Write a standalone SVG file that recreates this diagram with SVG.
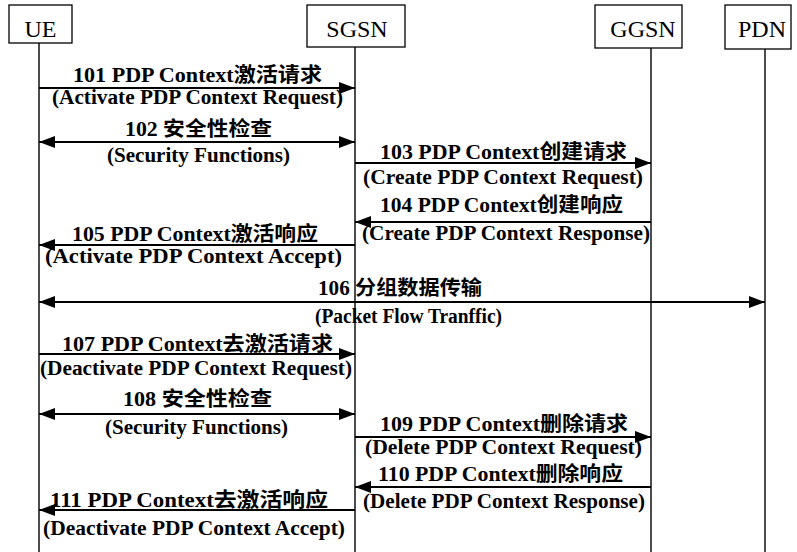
<svg xmlns="http://www.w3.org/2000/svg" width="797" height="552" viewBox="0 0 797 552">
<defs>
<style>
.box{fill:#fff;stroke:#000;stroke-width:1.3}
.life{stroke:#000;stroke-width:1.4;fill:none}
.msg{stroke:#000;stroke-width:1.8;fill:none}
.hd{font-family:"Liberation Serif","Noto Sans CJK SC",serif;font-size:24px;fill:#000;text-anchor:middle}
.lb{font-family:"Liberation Serif","Noto Sans CJK SC",serif;font-size:20px;font-weight:bold;fill:#000}
</style>
<marker id="ah" viewBox="0 0 16 12" refX="16" refY="6" markerWidth="16" markerHeight="12" markerUnits="userSpaceOnUse" orient="auto-start-reverse">
<path d="M0,0 L16,6 L0,12 Z" fill="#000"/>
</marker>
</defs>
<rect width="797" height="552" fill="#fff"/>
<g id="UE">
<rect class="box" x="9" y="5" width="63" height="38"/>
<text class="hd" x="40.5" y="37">UE</text>
<line class="life" x1="39" y1="43" x2="39" y2="552"/>
</g>
<g id="SGSN">
<rect class="box" x="307" y="5" width="98" height="42"/>
<text class="hd" x="357" y="37">SGSN</text>
<line class="life" x1="355" y1="47" x2="355" y2="552"/>
</g>
<g id="GGSN">
<rect class="box" x="595" y="5" width="87" height="43"/>
<text class="hd" x="643" y="37">GGSN</text>
<line class="life" x1="651" y1="48" x2="651" y2="552"/>
</g>
<g id="PDN">
<rect class="box" x="725" y="5" width="66" height="44"/>
<text class="hd" x="762" y="37">PDN</text>
<line class="life" x1="765" y1="49" x2="765" y2="552"/>
</g>
<g id="connectors">
<line class="msg" x1="39" y1="88" x2="355" y2="88" marker-end="url(#ah)"/>
<line class="msg" x1="39" y1="142" x2="355" y2="142" marker-start="url(#ah)" marker-end="url(#ah)"/>
<line class="msg" x1="355" y1="163" x2="651" y2="163" marker-end="url(#ah)"/>
<line class="msg" x1="651" y1="222" x2="355" y2="222" marker-end="url(#ah)"/>
<line class="msg" x1="355" y1="245" x2="39" y2="245" marker-end="url(#ah)"/>
<line class="msg" x1="39" y1="302" x2="765" y2="302" marker-start="url(#ah)" marker-end="url(#ah)"/>
<line class="msg" x1="39" y1="354" x2="355" y2="354" marker-end="url(#ah)"/>
<line class="msg" x1="39" y1="414" x2="355" y2="414" marker-start="url(#ah)" marker-end="url(#ah)"/>
<line class="msg" x1="355" y1="437" x2="651" y2="437" marker-end="url(#ah)"/>
<line class="msg" x1="651" y1="487" x2="355" y2="487" marker-end="url(#ah)"/>
<line class="msg" x1="355" y1="510" x2="39" y2="510" marker-end="url(#ah)"/>
</g>
<g id="labels">
<text class="lb" x="73" y="82" textLength="249" lengthAdjust="spacingAndGlyphs">101 PDP Context激活请求</text>
<text class="lb" x="52" y="104" textLength="291" lengthAdjust="spacingAndGlyphs">(Activate PDP Context Request)</text>
<text class="lb" x="125" y="136" textLength="147" lengthAdjust="spacingAndGlyphs">102 安全性检查</text>
<text class="lb" x="107" y="162" textLength="183" lengthAdjust="spacingAndGlyphs">(Security Functions)</text>
<text class="lb" x="380" y="159" textLength="247" lengthAdjust="spacingAndGlyphs">103 PDP Context创建请求</text>
<text class="lb" x="363" y="184" textLength="280" lengthAdjust="spacingAndGlyphs">(Create PDP Context Request)</text>
<text class="lb" x="380" y="212" textLength="243" lengthAdjust="spacingAndGlyphs">104 PDP Context创建响应</text>
<text class="lb" x="362" y="240" textLength="288" lengthAdjust="spacingAndGlyphs">(Create PDP Context Response)</text>
<text class="lb" x="72" y="241" textLength="246" lengthAdjust="spacingAndGlyphs">105 PDP Context激活响应</text>
<text class="lb" x="45" y="263" textLength="297" lengthAdjust="spacingAndGlyphs">(Activate PDP Context Accept)</text>
<text class="lb" x="318" y="295" textLength="164" lengthAdjust="spacingAndGlyphs">106 分组数据传输</text>
<text class="lb" x="315" y="323" textLength="187" lengthAdjust="spacingAndGlyphs">(Packet Flow Tranffic)</text>
<text class="lb" x="62" y="351" textLength="271" lengthAdjust="spacingAndGlyphs">107 PDP Context去激活请求</text>
<text class="lb" x="40" y="375" textLength="312" lengthAdjust="spacingAndGlyphs">(Deactivate PDP Context Request)</text>
<text class="lb" x="123" y="406" textLength="149" lengthAdjust="spacingAndGlyphs">108 安全性检查</text>
<text class="lb" x="105" y="434" textLength="183" lengthAdjust="spacingAndGlyphs">(Security Functions)</text>
<text class="lb" x="380" y="431" textLength="248" lengthAdjust="spacingAndGlyphs">109 PDP Context删除请求</text>
<text class="lb" x="365" y="454" textLength="277" lengthAdjust="spacingAndGlyphs">(Delete PDP Context Request)</text>
<text class="lb" x="378" y="481" textLength="245" lengthAdjust="spacingAndGlyphs">110 PDP Context删除响应</text>
<text class="lb" x="363" y="508" textLength="282" lengthAdjust="spacingAndGlyphs">(Delete PDP Context Response)</text>
<text class="lb" x="50" y="507" textLength="278" lengthAdjust="spacingAndGlyphs">111 PDP Context去激活响应</text>
<text class="lb" x="43" y="535" textLength="302" lengthAdjust="spacingAndGlyphs">(Deactivate PDP Context Accept)</text>
</g>
</svg>
